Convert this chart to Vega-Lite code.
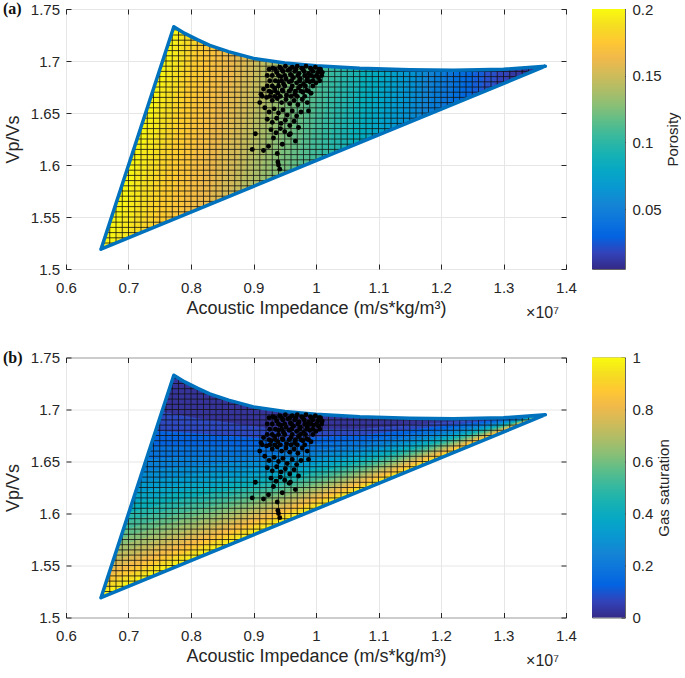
{
"$schema": "https://vega.github.io/schema/vega-lite/v6.json",
"background": "white",
"padding": {"left": 2, "top": 0, "right": 0, "bottom": 0},
"spacing": 26.5,
"config": {
  "font": "Liberation Sans",
  "view": {"stroke": null},
  "axis": {"labelFont": "Liberation Sans", "titleFont": "Liberation Sans", "labelFontSize": 15, "titleFontSize": 18, "titleFontWeight": "normal", "labelColor": "#262626", "titleColor": "#262626", "tickColor": "#262626", "domain": false, "gridColor": "#e6e6e6", "labelFlush": false, "labelOverlap": false}
},
"datasets": {
"fa": [
{"p":0.1975,"x":[0.7725,0.656,0.678,0.7813],"y":[1.733,1.519,1.5244,1.7297]},
{"p":0.1925,"x":[0.7813,0.678,0.700,0.790],"y":[1.7297,1.5244,1.5299,1.7265]},
{"p":0.1875,"x":[0.790,0.700,0.720,0.800],"y":[1.7265,1.5299,1.5348,1.7235]},
{"p":0.1825,"x":[0.800,0.720,0.740,0.810],"y":[1.7235,1.5348,1.5398,1.7205]},
{"p":0.1775,"x":[0.810,0.740,0.7625,0.825],"y":[1.7205,1.5398,1.5454,1.7164]},
{"p":0.1725,"x":[0.825,0.7625,0.785,0.840],"y":[1.7164,1.5454,1.5509,1.713]},
{"p":0.1675,"x":[0.840,0.785,0.8075,0.8575],"y":[1.713,1.5509,1.5565,1.7095]},
{"p":0.1625,"x":[0.8575,0.8075,0.830,0.875],"y":[1.7095,1.5565,1.5621,1.7066]},
{"p":0.1575,"x":[0.875,0.830,0.8475,0.890],"y":[1.7066,1.5621,1.5664,1.7041]},
{"p":0.1525,"x":[0.890,0.8475,0.865,0.905],"y":[1.7041,1.5664,1.5707,1.7021]},
{"p":0.1475,"x":[0.905,0.865,0.880,0.9175],"y":[1.7021,1.5707,1.5744,1.7009]},
{"p":0.1425,"x":[0.9175,0.880,0.895,0.930],"y":[1.7009,1.5744,1.5782,1.6998]},
{"p":0.1375,"x":[0.930,0.895,0.910,0.940],"y":[1.6998,1.5782,1.5819,1.6989]},
{"p":0.1325,"x":[0.940,0.910,0.925,0.950],"y":[1.6989,1.5819,1.5856,1.698]},
{"p":0.1275,"x":[0.950,0.925,0.940,0.960],"y":[1.698,1.5856,1.5893,1.6975]},
{"p":0.1225,"x":[0.960,0.940,0.956,0.976],"y":[1.6975,1.5893,1.5933,1.6967]},
{"p":0.1175,"x":[0.976,0.956,0.972,0.992],"y":[1.6967,1.5933,1.5972,1.6959]},
{"p":0.1125,"x":[0.992,0.972,0.988,1.008],"y":[1.6959,1.5972,1.6012,1.6952]},
{"p":0.1075,"x":[1.008,0.988,1.004,1.024],"y":[1.6952,1.6012,1.6051,1.6946]},
{"p":0.1025,"x":[1.024,1.004,1.020,1.040],"y":[1.6946,1.6051,1.6091,1.6941]},
{"p":0.0975,"x":[1.040,1.020,1.036,1.056],"y":[1.6941,1.6091,1.6131,1.6935]},
{"p":0.0925,"x":[1.056,1.036,1.052,1.072],"y":[1.6935,1.6131,1.617,1.693]},
{"p":0.0875,"x":[1.072,1.052,1.068,1.088],"y":[1.693,1.617,1.621,1.6927]},
{"p":0.0825,"x":[1.088,1.068,1.084,1.104],"y":[1.6927,1.621,1.6249,1.6924]},
{"p":0.0775,"x":[1.104,1.084,1.100,1.120],"y":[1.6924,1.6249,1.6289,1.6921]},
{"p":0.0725,"x":[1.120,1.100,1.116,1.134],"y":[1.6921,1.6289,1.6329,1.6918]},
{"p":0.0675,"x":[1.134,1.116,1.132,1.148],"y":[1.6918,1.6329,1.6368,1.6915]},
{"p":0.0625,"x":[1.148,1.132,1.148,1.162],"y":[1.6915,1.6368,1.6408,1.6914]},
{"p":0.0575,"x":[1.162,1.148,1.164,1.176],"y":[1.6914,1.6408,1.6447,1.6913]},
{"p":0.0525,"x":[1.176,1.164,1.180,1.190],"y":[1.6913,1.6447,1.6487,1.6912]},
{"p":0.0475,"x":[1.190,1.180,1.197,1.206],"y":[1.6912,1.6487,1.6529,1.6911]},
{"p":0.0425,"x":[1.206,1.197,1.214,1.222],"y":[1.6911,1.6529,1.6571,1.691]},
{"p":0.0375,"x":[1.222,1.214,1.231,1.238],"y":[1.691,1.6571,1.6613,1.6912]},
{"p":0.0325,"x":[1.238,1.231,1.248,1.254],"y":[1.6912,1.6613,1.6655,1.6914]},
{"p":0.0275,"x":[1.254,1.248,1.265,1.270],"y":[1.6914,1.6655,1.6697,1.6916]},
{"p":0.0225,"x":[1.270,1.265,1.2854,1.2894],"y":[1.6916,1.6697,1.6748,1.6919]},
{"p":0.0175,"x":[1.2894,1.2854,1.3058,1.3088],"y":[1.6919,1.6748,1.6798,1.6924]},
{"p":0.0125,"x":[1.3088,1.3058,1.3262,1.3282],"y":[1.6924,1.6798,1.6849,1.6933]},
{"p":0.0075,"x":[1.3282,1.3262,1.3466,1.3476],"y":[1.6933,1.6849,1.6899,1.6941]},
{"p":0.0025,"x":[1.3476,1.3466,1.367,1.367],"y":[1.6941,1.6899,1.695,1.695]}
],
"fb": [
{"s":0.025,"x":[0.7725,0.79,0.81,0.83,0.86,0.90,0.95,1.0,1.07,1.15,1.22,1.30,1.367,1.0742,0.9342,0.8034,0.7532],"y":[1.733,1.7265,1.7205,1.715,1.709,1.7025,1.698,1.6955,1.693,1.6915,1.691,1.692,1.695,1.6811,1.6807,1.6918,1.6975]},
{"s":0.075,"x":[0.7532,0.8034,0.9342,1.0742,1.367,1.0737,0.9337,0.8000,0.7432],"y":[1.6975,1.6918,1.6807,1.6811,1.695,1.6750,1.6711,1.6770,1.6792]},
{"s":0.125,"x":[0.7432,0.8000,0.9337,1.0737,1.367,1.0734,0.9334,0.7972,0.7352],"y":[1.6792,1.6770,1.6711,1.6750,1.695,1.6700,1.6633,1.6650,1.6644]},
{"s":0.175,"x":[0.7352,0.7972,0.9334,1.0734,1.367,1.0731,0.9331,0.7948,0.7281],"y":[1.6644,1.6650,1.6633,1.6700,1.695,1.6657,1.6565,1.6545,1.6515]},
{"s":0.225,"x":[0.7281,0.7948,0.9331,1.0731,1.367,1.0728,0.9328,0.7926,0.7218],"y":[1.6515,1.6545,1.6565,1.6657,1.695,1.6618,1.6504,1.6451,1.6398]},
{"s":0.275,"x":[0.7218,0.7926,0.9328,1.0728,1.367,1.0726,0.9326,0.7906,0.7159],"y":[1.6398,1.6451,1.6504,1.6618,1.695,1.6582,1.6447,1.6363,1.6291]},
{"s":0.325,"x":[0.7159,0.7906,0.9326,1.0726,1.367,1.0723,0.9323,0.7887,0.7104],"y":[1.6291,1.6363,1.6447,1.6582,1.695,1.6549,1.6394,1.6282,1.6190]},
{"s":0.375,"x":[0.7104,0.7887,0.9323,1.0723,1.367,1.0721,0.9321,0.7869,0.7053],"y":[1.6190,1.6282,1.6394,1.6549,1.695,1.6517,1.6344,1.6205,1.6095]},
{"s":0.425,"x":[0.7053,0.7869,0.9321,1.0721,1.367,1.0719,0.9319,0.7852,0.7003],"y":[1.6095,1.6205,1.6344,1.6517,1.695,1.6487,1.6297,1.6132,1.6004]},
{"s":0.475,"x":[0.7003,0.7852,0.9319,1.0719,1.367,1.0717,0.9317,0.7836,0.6956],"y":[1.6004,1.6132,1.6297,1.6487,1.695,1.6458,1.6251,1.6062,1.5918]},
{"s":0.525,"x":[0.6956,0.7836,0.9317,1.0717,1.367,1.0715,0.9315,0.7821,0.6911],"y":[1.5918,1.6062,1.6251,1.6458,1.695,1.6430,1.6207,1.5994,1.5835]},
{"s":0.575,"x":[0.6911,0.7821,0.9315,1.0715,1.367,1.0713,0.9313,0.7806,0.6868],"y":[1.5835,1.5994,1.6207,1.6430,1.695,1.6403,1.6165,1.5930,1.5755]},
{"s":0.625,"x":[0.6868,0.7806,0.9313,1.0713,1.367,1.0711,0.9311,0.7791,0.6825],"y":[1.5755,1.5930,1.6165,1.6403,1.695,1.6378,1.6124,1.5867,1.5677]},
{"s":0.675,"x":[0.6825,0.7791,0.9311,1.0711,1.367,1.0710,0.9310,0.7777,0.6784],"y":[1.5677,1.5867,1.6124,1.6378,1.695,1.6353,1.6085,1.5806,1.5602]},
{"s":0.725,"x":[0.6784,0.7777,0.9310,1.0710,1.367,1.0708,0.9308,0.7763,0.6745],"y":[1.5602,1.5806,1.6085,1.6353,1.695,1.6328,1.6046,1.5747,1.5529]},
{"s":0.775,"x":[0.6745,0.7763,0.9308,1.0708,1.367,1.0706,0.9306,0.7750,0.6706],"y":[1.5529,1.5747,1.6046,1.6328,1.695,1.6304,1.6009,1.5689,1.5458]},
{"s":0.825,"x":[0.6706,0.7750,0.9306,1.0706,1.367,1.0705,0.9305,0.7737,0.6668],"y":[1.5458,1.5689,1.6009,1.6304,1.695,1.6281,1.5973,1.5633,1.5389]},
{"s":0.875,"x":[0.6668,0.7737,0.9305,1.0705,1.367,1.0703,0.9303,0.7725,0.6631],"y":[1.5389,1.5633,1.5973,1.6281,1.695,1.6259,1.5937,1.5578,1.5321]},
{"s":0.925,"x":[0.6631,0.7725,0.9303,1.0703,1.367,1.0702,0.9302,0.7712,0.6595],"y":[1.5321,1.5578,1.5937,1.6259,1.695,1.6237,1.5902,1.5525,1.5255]},
{"s":0.975,"x":[0.6595,0.7712,0.9302,1.0702,1.367,1.070,0.930,0.770,0.656],"y":[1.5255,1.5525,1.5902,1.6237,1.695,1.6215,1.5868,1.5472,1.519]}
],
"bd": [
{"x":0.656,"y":1.519},{"x":0.7725,"y":1.733},{"x":0.79,"y":1.7265},{"x":0.81,"y":1.7205},{"x":0.83,"y":1.715},{"x":0.86,"y":1.709},{"x":0.90,"y":1.7025},{"x":0.95,"y":1.698},{"x":1.0,"y":1.6955},{"x":1.07,"y":1.693},{"x":1.15,"y":1.6915},{"x":1.22,"y":1.691},{"x":1.30,"y":1.692},{"x":1.367,"y":1.695},{"x":0.656,"y":1.519}
],
"vm": [
{"x":0.66,"a":1.5200,"b":1.5263},{"x":0.67,"a":1.5225,"b":1.5447},{"x":0.68,"a":1.5249,"b":1.5631},{"x":0.69,"a":1.5274,"b":1.5815},{"x":0.70,"a":1.5299,"b":1.5998},{"x":0.71,"a":1.5324,"b":1.6182},{"x":0.72,"a":1.5348,"b":1.6366},{"x":0.73,"a":1.5373,"b":1.6549},{"x":0.74,"a":1.5398,"b":1.6733},{"x":0.75,"a":1.5423,"b":1.6917},{"x":0.76,"a":1.5447,"b":1.7100},{"x":0.77,"a":1.5472,"b":1.7284},{"x":0.78,"a":1.5497,"b":1.7302},{"x":0.79,"a":1.5522,"b":1.7265},{"x":0.80,"a":1.5546,"b":1.7235},{"x":0.81,"a":1.5571,"b":1.7205},{"x":0.82,"a":1.5596,"b":1.7178},{"x":0.83,"a":1.5621,"b":1.7150},{"x":0.84,"a":1.5645,"b":1.7130},{"x":0.85,"a":1.5670,"b":1.7110},{"x":0.86,"a":1.5695,"b":1.7090},{"x":0.87,"a":1.5720,"b":1.7074},{"x":0.88,"a":1.5744,"b":1.7058},{"x":0.89,"a":1.5769,"b":1.7041},{"x":0.90,"a":1.5794,"b":1.7025},{"x":0.91,"a":1.5819,"b":1.7016},{"x":0.92,"a":1.5843,"b":1.7007},{"x":0.93,"a":1.5868,"b":1.6998},{"x":0.94,"a":1.5893,"b":1.6989},{"x":0.95,"a":1.5918,"b":1.6980},{"x":0.96,"a":1.5942,"b":1.6975},{"x":0.97,"a":1.5967,"b":1.6970},{"x":0.98,"a":1.5992,"b":1.6965},{"x":0.99,"a":1.6017,"b":1.6960},{"x":1.00,"a":1.6041,"b":1.6955},{"x":1.01,"a":1.6066,"b":1.6951},{"x":1.02,"a":1.6091,"b":1.6948},{"x":1.03,"a":1.6116,"b":1.6944},{"x":1.04,"a":1.6140,"b":1.6941},{"x":1.05,"a":1.6165,"b":1.6937},{"x":1.06,"a":1.6190,"b":1.6934},{"x":1.07,"a":1.6215,"b":1.6930},{"x":1.08,"a":1.6239,"b":1.6928},{"x":1.09,"a":1.6264,"b":1.6926},{"x":1.10,"a":1.6289,"b":1.6924},{"x":1.11,"a":1.6314,"b":1.6922},{"x":1.12,"a":1.6338,"b":1.6921},{"x":1.13,"a":1.6363,"b":1.6919},{"x":1.14,"a":1.6388,"b":1.6917},{"x":1.15,"a":1.6413,"b":1.6915},{"x":1.16,"a":1.6437,"b":1.6914},{"x":1.17,"a":1.6462,"b":1.6914},{"x":1.18,"a":1.6487,"b":1.6913},{"x":1.19,"a":1.6512,"b":1.6912},{"x":1.20,"a":1.6536,"b":1.6911},{"x":1.21,"a":1.6561,"b":1.6911},{"x":1.22,"a":1.6586,"b":1.6910},{"x":1.23,"a":1.6611,"b":1.6911},{"x":1.24,"a":1.6635,"b":1.6913},{"x":1.25,"a":1.6660,"b":1.6914},{"x":1.26,"a":1.6685,"b":1.6915},{"x":1.27,"a":1.6710,"b":1.6916},{"x":1.28,"a":1.6734,"b":1.6918},{"x":1.29,"a":1.6759,"b":1.6919},{"x":1.30,"a":1.6784,"b":1.6920},{"x":1.31,"a":1.6809,"b":1.6924},{"x":1.32,"a":1.6833,"b":1.6929},{"x":1.33,"a":1.6858,"b":1.6933},{"x":1.34,"a":1.6883,"b":1.6938},{"x":1.35,"a":1.6908,"b":1.6942},{"x":1.36,"a":1.6932,"b":1.6947}
],
"hm": [
{"y":1.520,"a":0.6565,"b":0.6600},{"y":1.525,"a":0.6593,"b":0.6802},{"y":1.530,"a":0.6620,"b":0.7004},{"y":1.535,"a":0.6647,"b":0.7206},{"y":1.540,"a":0.6674,"b":0.7408},{"y":1.545,"a":0.6702,"b":0.7611},{"y":1.550,"a":0.6729,"b":0.7813},{"y":1.555,"a":0.6756,"b":0.8015},{"y":1.560,"a":0.6783,"b":0.8217},{"y":1.565,"a":0.6810,"b":0.8419},{"y":1.570,"a":0.6838,"b":0.8621},{"y":1.575,"a":0.6865,"b":0.8823},{"y":1.580,"a":0.6892,"b":0.9025},{"y":1.585,"a":0.6919,"b":0.9227},{"y":1.590,"a":0.6947,"b":0.9429},{"y":1.595,"a":0.6974,"b":0.9631},{"y":1.600,"a":0.7001,"b":0.9833},{"y":1.605,"a":0.7028,"b":1.0035},{"y":1.610,"a":0.7055,"b":1.0237},{"y":1.615,"a":0.7083,"b":1.0439},{"y":1.620,"a":0.7110,"b":1.0641},{"y":1.625,"a":0.7137,"b":1.0843},{"y":1.630,"a":0.7164,"b":1.1045},{"y":1.635,"a":0.7192,"b":1.1247},{"y":1.640,"a":0.7219,"b":1.1449},{"y":1.645,"a":0.7246,"b":1.1651},{"y":1.650,"a":0.7273,"b":1.1853},{"y":1.655,"a":0.7300,"b":1.2055},{"y":1.660,"a":0.7328,"b":1.2257},{"y":1.665,"a":0.7355,"b":1.2459},{"y":1.670,"a":0.7382,"b":1.2661},{"y":1.675,"a":0.7409,"b":1.2863},{"y":1.680,"a":0.7436,"b":1.3065},{"y":1.685,"a":0.7464,"b":1.3267},{"y":1.690,"a":0.7491,"b":1.3469},{"y":1.695,"a":0.7518,"b":1.0140},{"y":1.700,"a":0.7545,"b":0.9278},{"y":1.705,"a":0.7573,"b":0.8846},{"y":1.710,"a":0.7600,"b":0.8550},{"y":1.715,"a":0.7627,"b":0.8300},{"y":1.720,"a":0.7654,"b":0.8118},{"y":1.725,"a":0.7681,"b":0.7950},{"y":1.730,"a":0.7709,"b":0.7806}
],
"pts": [
{"x":0.931,"y":1.693},{"x":0.937,"y":1.689},{"x":0.942,"y":1.694},{"x":0.947,"y":1.690},{"x":0.951,"y":1.695},{"x":0.955,"y":1.691},{"x":0.959,"y":1.687},{"x":0.962,"y":1.694},{"x":0.966,"y":1.690},{"x":0.970,"y":1.695},{"x":0.973,"y":1.688},{"x":0.977,"y":1.693},{"x":0.981,"y":1.690},{"x":0.984,"y":1.695},{"x":0.988,"y":1.688},{"x":0.991,"y":1.693},{"x":0.995,"y":1.690},{"x":0.999,"y":1.694},{"x":1.003,"y":1.689},{"x":1.007,"y":1.692},{"x":1.010,"y":1.689},{"x":0.944,"y":1.685},{"x":0.952,"y":1.683},{"x":0.964,"y":1.684},{"x":0.975,"y":1.683},{"x":0.986,"y":1.684},{"x":0.996,"y":1.685},{"x":1.004,"y":1.684},{"x":0.940,"y":1.680},{"x":0.948,"y":1.678},{"x":0.957,"y":1.680},{"x":0.969,"y":1.679},{"x":0.980,"y":1.678},{"x":0.990,"y":1.680},{"x":1.000,"y":1.679},
{"x":0.925,"y":1.692},{"x":0.935,"y":1.692},{"x":0.945,"y":1.692},{"x":0.958,"y":1.692},{"x":0.968,"y":1.692},{"x":0.979,"y":1.692},{"x":0.993,"y":1.692},{"x":1.005,"y":1.692},
{"x":0.922,"y":1.686},{"x":0.930,"y":1.686},{"x":0.940,"y":1.686},{"x":0.950,"y":1.686},{"x":0.961,"y":1.686},{"x":0.971,"y":1.686},{"x":0.982,"y":1.686},{"x":0.992,"y":1.686},{"x":1.001,"y":1.686},{"x":1.009,"y":1.686},
{"x":0.926,"y":1.681},{"x":0.935,"y":1.681},{"x":0.945,"y":1.681},{"x":0.961,"y":1.681},{"x":0.974,"y":1.681},{"x":0.985,"y":1.681},{"x":0.995,"y":1.681},{"x":1.006,"y":1.681},
{"x":0.930,"y":1.676},{"x":0.940,"y":1.676},{"x":0.950,"y":1.676},{"x":0.962,"y":1.676},{"x":0.975,"y":1.676},{"x":0.983,"y":1.676},{"x":0.995,"y":1.676},
{"x":0.925,"y":1.671},{"x":0.935,"y":1.671},{"x":0.947,"y":1.671},{"x":0.957,"y":1.671},{"x":0.967,"y":1.671},{"x":0.976,"y":1.671},{"x":0.988,"y":1.671},
{"x":0.914,"y":1.666},{"x":0.926,"y":1.666},{"x":0.934,"y":1.666},{"x":0.943,"y":1.666},{"x":0.960,"y":1.666},{"x":0.970,"y":1.666},{"x":0.982,"y":1.666},{"x":0.912,"y":1.668},{"x":0.910,"y":1.660},
{"x":0.916,"y":1.673},{"x":0.922,"y":1.676},{"x":0.928,"y":1.670},{"x":0.934,"y":1.674},{"x":0.939,"y":1.669},{"x":0.946,"y":1.672},{"x":0.953,"y":1.667},{"x":0.960,"y":1.673},{"x":0.966,"y":1.668},{"x":0.972,"y":1.674},{"x":0.979,"y":1.670},{"x":0.985,"y":1.672},{"x":0.992,"y":1.669},{"x":0.921,"y":1.665},{"x":0.930,"y":1.662},{"x":0.938,"y":1.664},{"x":0.945,"y":1.660},{"x":0.952,"y":1.663},{"x":0.958,"y":1.659},{"x":0.965,"y":1.662},{"x":0.971,"y":1.658},{"x":0.978,"y":1.663},{"x":0.986,"y":1.660},
{"x":0.918,"y":1.655},{"x":0.925,"y":1.651},{"x":0.933,"y":1.654},{"x":0.940,"y":1.650},{"x":0.947,"y":1.653},{"x":0.954,"y":1.648},{"x":0.962,"y":1.652},{"x":0.969,"y":1.647},{"x":0.976,"y":1.651},{"x":0.922,"y":1.644},{"x":0.930,"y":1.641},{"x":0.937,"y":1.645},{"x":0.944,"y":1.640},{"x":0.951,"y":1.643},{"x":0.958,"y":1.638},{"x":0.965,"y":1.642},{"x":0.928,"y":1.634},{"x":0.936,"y":1.631},{"x":0.943,"y":1.635},{"x":0.950,"y":1.632},{"x":0.957,"y":1.629},{"x":0.988,"y":1.652},
{"x":0.903,"y":1.630},{"x":0.898,"y":1.615},{"x":0.916,"y":1.614},{"x":0.924,"y":1.618},{"x":0.938,"y":1.611},{"x":0.946,"y":1.620},{"x":0.932,"y":1.626},{"x":0.959,"y":1.630},{"x":0.967,"y":1.623},{"x":0.972,"y":1.636},{"x":0.940,"y":1.600},{"x":0.942,"y":1.596},{"x":0.939,"y":1.603}
]
},
"resolve": {"scale": {"x": "independent", "y": "independent", "fill": "independent", "stroke": "independent"}},
"vconcat": [
{
"bounds": "flush",
"spacing": 26,
"resolve": {"scale": {"x": "independent", "y": "independent", "fill": "independent", "stroke": "independent"}},
"hconcat": [
{
"width": 500, "height": 260,
"view": {"stroke": "#666666", "strokeWidth": 1},
"resolve": {"axis": {"x": "independent", "y": "independent"}},
"layer": [
{"data": {"name": "fa"}, "transform": [{"flatten": ["x", "y"]}],
 "mark": {"type": "line", "strokeWidth": 0.7},
 "encoding": {
  "x": {"field": "x", "type": "quantitative", "scale": {"domain": [0.6, 1.4], "nice": false, "zero": false}, "axis": {"orient": "bottom", "values": [0.6,0.7,0.8,0.9,1,1.1,1.2,1.3,1.4], "format": "~g", "grid": true, "tickSize": -5, "labelPadding": 16, "title": "Acoustic Impedance (m/s*kg/m³)", "titlePadding": 4}},
  "y": {"field": "y", "type": "quantitative", "scale": {"domain": [1.5, 1.75], "nice": false, "zero": false}, "axis": {"orient": "left", "values": [1.5,1.55,1.6,1.65,1.7,1.75], "format": "~g", "grid": true, "tickSize": -5, "labelPadding": 11.5, "title": "Vp/Vs", "titlePadding": 8}},
  "detail": {"field": "p", "type": "nominal"},
  "fill": {"field": "p", "type": "quantitative", "legend": null, "scale": {"domain": [0.005, 0.2], "clamp": true, "range": ["#352a87","#3243ba","#0363e1","#0d75dc","#1485d4","#0998d1","#06a7c6","#15b1b4","#33b8a1","#59bd8b","#87bf77","#aebd67","#d1bb59","#f1b94a","#fec832","#f5de21","#f9fb0e"]}},
  "stroke": {"field": "p", "type": "quantitative", "legend": null, "scale": {"domain": [0.005, 0.2], "clamp": true, "range": ["#352a87","#3243ba","#0363e1","#0d75dc","#1485d4","#0998d1","#06a7c6","#15b1b4","#33b8a1","#59bd8b","#87bf77","#aebd67","#d1bb59","#f1b94a","#fec832","#f5de21","#f9fb0e"]}},
  "order": {"value": null}
 }},
{"data": {"name": "vm"}, "mark": {"type": "rule", "color": "#111111", "strokeWidth": 0.8},
 "encoding": {"x": {"field": "x", "type": "quantitative", "scale": {"domain": [0.6, 1.4], "nice": false, "zero": false}, "axis": null}, "y": {"field": "a", "type": "quantitative", "scale": {"domain": [1.5, 1.75], "nice": false, "zero": false}, "axis": null}, "y2": {"field": "b"}}},
{"data": {"name": "hm"}, "mark": {"type": "rule", "color": "#111111", "strokeWidth": 0.8},
 "encoding": {"y": {"field": "y", "type": "quantitative", "scale": {"domain": [1.5, 1.75], "nice": false, "zero": false}, "axis": null}, "x": {"field": "a", "type": "quantitative", "scale": {"domain": [0.6, 1.4], "nice": false, "zero": false}, "axis": null}, "x2": {"field": "b"}}},
{"data": {"name": "bd"}, "mark": {"type": "line", "color": "#0072bd", "strokeWidth": 3.5, "strokeJoin": "round", "strokeCap": "round"},
 "encoding": {"x": {"field": "x", "type": "quantitative", "scale": {"domain": [0.6, 1.4], "nice": false, "zero": false}, "axis": {"orient": "top", "values": [0.6,0.7,0.8,0.9,1,1.1,1.2,1.3,1.4], "labels": false, "grid": false, "tickSize": -5, "title": null}}, "y": {"field": "y", "type": "quantitative", "scale": {"domain": [1.5, 1.75], "nice": false, "zero": false}, "axis": {"orient": "right", "values": [1.5,1.55,1.6,1.65,1.7,1.75], "labels": false, "grid": false, "tickSize": -5, "title": null}}, "order": {"value": null}}},
{"data": {"name": "pts"}, "mark": {"type": "circle", "color": "#000000", "size": 24, "opacity": 1},
 "encoding": {"x": {"field": "x", "type": "quantitative", "scale": {"domain": [0.6, 1.4], "nice": false, "zero": false}, "axis": null}, "y": {"field": "y", "type": "quantitative", "scale": {"domain": [1.5, 1.75], "nice": false, "zero": false}, "axis": null}}},
{"data": {"values": [{"x": 0.4992, "y": 1.75, "t": "(a)"}]}, "mark": {"type": "text", "align": "left", "baseline": "middle", "fontSize": 16, "font": "Liberation Serif", "fontWeight": "bold", "color": "#111111"},
 "encoding": {"x": {"field": "x", "type": "quantitative", "scale": {"domain": [0.6, 1.4], "nice": false, "zero": false}, "axis": null}, "y": {"field": "y", "type": "quantitative", "scale": {"domain": [1.5, 1.75], "nice": false, "zero": false}, "axis": null}, "text": {"field": "t"}}},
{"data": {"values": [{"x": 1.3624, "y": 1.4577, "t": "×10⁷"}]}, "mark": {"type": "text", "align": "center", "baseline": "middle", "fontSize": 16, "font": "Liberation Sans", "color": "#262626"},
 "encoding": {"x": {"field": "x", "type": "quantitative", "scale": {"domain": [0.6, 1.4], "nice": false, "zero": false}, "axis": null}, "y": {"field": "y", "type": "quantitative", "scale": {"domain": [1.5, 1.75], "nice": false, "zero": false}, "axis": null}, "text": {"field": "t"}}}
]
},
{
"width": 33, "height": 260,
"view": {"stroke": "#666666", "strokeWidth": 1},
"data": {"values": [{"lo": 0.005, "hi": 0.2}]},
"mark": {"type": "rect", "color": {"gradient": "linear", "x1": 0, "y1": 1, "x2": 0, "y2": 0, "stops": [{"offset":0,"color":"#352a87"},{"offset":0.0625,"color":"#3243ba"},{"offset":0.125,"color":"#0363e1"},{"offset":0.1875,"color":"#0d75dc"},{"offset":0.25,"color":"#1485d4"},{"offset":0.3125,"color":"#0998d1"},{"offset":0.375,"color":"#06a7c6"},{"offset":0.4375,"color":"#15b1b4"},{"offset":0.5,"color":"#33b8a1"},{"offset":0.5625,"color":"#59bd8b"},{"offset":0.625,"color":"#87bf77"},{"offset":0.6875,"color":"#aebd67"},{"offset":0.75,"color":"#d1bb59"},{"offset":0.8125,"color":"#f1b94a"},{"offset":0.875,"color":"#fec832"},{"offset":0.9375,"color":"#f5de21"},{"offset":1,"color":"#f9fb0e"}]}},
"encoding": {
 "y": {"field": "lo", "type": "quantitative", "scale": {"domain": [0.005, 0.2], "nice": false, "zero": false}, "axis": {"orient": "right", "values": [0.05,0.1,0.15,0.2], "format": "~g", "grid": false, "tickSize": -4, "labelPadding": 11, "title": "Porosity", "titleAngle": 270, "titleBaseline": "top", "titlePadding": 4, "titleFontSize": 15}},
 "y2": {"field": "hi"}
}
}
]
},
{
"bounds": "flush",
"spacing": 26,
"resolve": {"scale": {"x": "independent", "y": "independent", "fill": "independent", "stroke": "independent"}},
"hconcat": [
{
"width": 500, "height": 260,
"view": {"stroke": "#666666", "strokeWidth": 1},
"resolve": {"axis": {"x": "independent", "y": "independent"}},
"layer": [
{"data": {"name": "fb"}, "transform": [{"flatten": ["x", "y"]}],
 "mark": {"type": "line", "strokeWidth": 0.7},
 "encoding": {
  "x": {"field": "x", "type": "quantitative", "scale": {"domain": [0.6, 1.4], "nice": false, "zero": false}, "axis": {"orient": "bottom", "values": [0.6,0.7,0.8,0.9,1,1.1,1.2,1.3,1.4], "format": "~g", "grid": true, "tickSize": -5, "labelPadding": 16, "title": "Acoustic Impedance (m/s*kg/m³)", "titlePadding": 4}},
  "y": {"field": "y", "type": "quantitative", "scale": {"domain": [1.5, 1.75], "nice": false, "zero": false}, "axis": {"orient": "left", "values": [1.5,1.55,1.6,1.65,1.7,1.75], "format": "~g", "grid": true, "tickSize": -5, "labelPadding": 11.5, "title": "Vp/Vs", "titlePadding": 8}},
  "detail": {"field": "s", "type": "nominal"},
  "fill": {"field": "s", "type": "quantitative", "legend": null, "scale": {"domain": [0, 1], "clamp": true, "range": ["#352a87","#3243ba","#0363e1","#0d75dc","#1485d4","#0998d1","#06a7c6","#15b1b4","#33b8a1","#59bd8b","#87bf77","#aebd67","#d1bb59","#f1b94a","#fec832","#f5de21","#f9fb0e"]}},
  "stroke": {"field": "s", "type": "quantitative", "legend": null, "scale": {"domain": [0, 1], "clamp": true, "range": ["#352a87","#3243ba","#0363e1","#0d75dc","#1485d4","#0998d1","#06a7c6","#15b1b4","#33b8a1","#59bd8b","#87bf77","#aebd67","#d1bb59","#f1b94a","#fec832","#f5de21","#f9fb0e"]}},
  "order": {"value": null}
 }},
{"data": {"name": "vm"}, "mark": {"type": "rule", "color": "#111111", "strokeWidth": 0.8},
 "encoding": {"x": {"field": "x", "type": "quantitative", "scale": {"domain": [0.6, 1.4], "nice": false, "zero": false}, "axis": null}, "y": {"field": "a", "type": "quantitative", "scale": {"domain": [1.5, 1.75], "nice": false, "zero": false}, "axis": null}, "y2": {"field": "b"}}},
{"data": {"name": "hm"}, "mark": {"type": "rule", "color": "#111111", "strokeWidth": 0.8},
 "encoding": {"y": {"field": "y", "type": "quantitative", "scale": {"domain": [1.5, 1.75], "nice": false, "zero": false}, "axis": null}, "x": {"field": "a", "type": "quantitative", "scale": {"domain": [0.6, 1.4], "nice": false, "zero": false}, "axis": null}, "x2": {"field": "b"}}},
{"data": {"name": "bd"}, "mark": {"type": "line", "color": "#0072bd", "strokeWidth": 3.5, "strokeJoin": "round", "strokeCap": "round"},
 "encoding": {"x": {"field": "x", "type": "quantitative", "scale": {"domain": [0.6, 1.4], "nice": false, "zero": false}, "axis": {"orient": "top", "values": [0.6,0.7,0.8,0.9,1,1.1,1.2,1.3,1.4], "labels": false, "grid": false, "tickSize": -5, "title": null}}, "y": {"field": "y", "type": "quantitative", "scale": {"domain": [1.5, 1.75], "nice": false, "zero": false}, "axis": {"orient": "right", "values": [1.5,1.55,1.6,1.65,1.7,1.75], "labels": false, "grid": false, "tickSize": -5, "title": null}}, "order": {"value": null}}},
{"data": {"name": "pts"}, "mark": {"type": "circle", "color": "#000000", "size": 24, "opacity": 1},
 "encoding": {"x": {"field": "x", "type": "quantitative", "scale": {"domain": [0.6, 1.4], "nice": false, "zero": false}, "axis": null}, "y": {"field": "y", "type": "quantitative", "scale": {"domain": [1.5, 1.75], "nice": false, "zero": false}, "axis": null}}},
{"data": {"values": [{"x": 0.4992, "y": 1.75, "t": "(b)"}]}, "mark": {"type": "text", "align": "left", "baseline": "middle", "fontSize": 16, "font": "Liberation Serif", "fontWeight": "bold", "color": "#111111"},
 "encoding": {"x": {"field": "x", "type": "quantitative", "scale": {"domain": [0.6, 1.4], "nice": false, "zero": false}, "axis": null}, "y": {"field": "y", "type": "quantitative", "scale": {"domain": [1.5, 1.75], "nice": false, "zero": false}, "axis": null}, "text": {"field": "t"}}},
{"data": {"values": [{"x": 1.3624, "y": 1.4577, "t": "×10⁷"}]}, "mark": {"type": "text", "align": "center", "baseline": "middle", "fontSize": 16, "font": "Liberation Sans", "color": "#262626"},
 "encoding": {"x": {"field": "x", "type": "quantitative", "scale": {"domain": [0.6, 1.4], "nice": false, "zero": false}, "axis": null}, "y": {"field": "y", "type": "quantitative", "scale": {"domain": [1.5, 1.75], "nice": false, "zero": false}, "axis": null}, "text": {"field": "t"}}}
]
},
{
"width": 33, "height": 260,
"view": {"stroke": "#666666", "strokeWidth": 1},
"data": {"values": [{"lo": 0, "hi": 1}]},
"mark": {"type": "rect", "color": {"gradient": "linear", "x1": 0, "y1": 1, "x2": 0, "y2": 0, "stops": [{"offset":0,"color":"#352a87"},{"offset":0.0625,"color":"#3243ba"},{"offset":0.125,"color":"#0363e1"},{"offset":0.1875,"color":"#0d75dc"},{"offset":0.25,"color":"#1485d4"},{"offset":0.3125,"color":"#0998d1"},{"offset":0.375,"color":"#06a7c6"},{"offset":0.4375,"color":"#15b1b4"},{"offset":0.5,"color":"#33b8a1"},{"offset":0.5625,"color":"#59bd8b"},{"offset":0.625,"color":"#87bf77"},{"offset":0.6875,"color":"#aebd67"},{"offset":0.75,"color":"#d1bb59"},{"offset":0.8125,"color":"#f1b94a"},{"offset":0.875,"color":"#fec832"},{"offset":0.9375,"color":"#f5de21"},{"offset":1,"color":"#f9fb0e"}]}},
"encoding": {
 "y": {"field": "lo", "type": "quantitative", "scale": {"domain": [0, 1], "nice": false, "zero": false}, "axis": {"orient": "right", "values": [0,0.2,0.4,0.6,0.8,1], "format": "~g", "grid": false, "tickSize": -4, "labelPadding": 11, "title": "Gas saturation", "titleAngle": 270, "titleBaseline": "top", "titlePadding": 4, "titleFontSize": 15}},
 "y2": {"field": "hi"}
}
}
]
}
]
}
